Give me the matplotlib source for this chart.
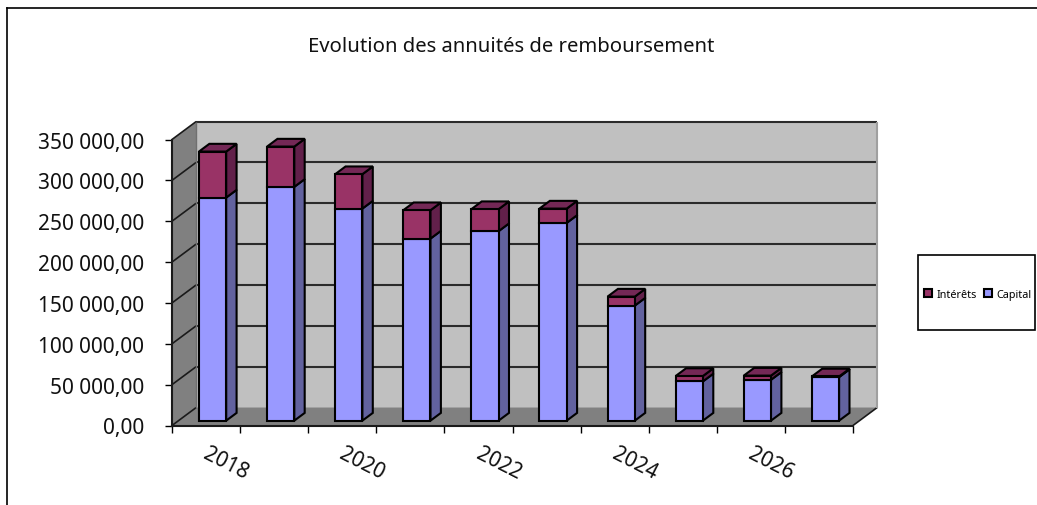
import numpy as np
import matplotlib
matplotlib.use("Agg")
import matplotlib.pyplot as plt
from matplotlib.lines import Line2D
from matplotlib.patches import Patch, Rectangle
from matplotlib.transforms import ScaledTranslation

plt.rcParams['font.family'] = ['Noto Sans', 'DejaVu Sans']

# --- Data ---
years = [2018, 2019, 2020, 2021, 2022, 2023, 2024, 2025, 2026, 2027]
capital = [273000, 286100, 259500, 222800, 231900, 242000, 140800, 48000, 50000, 53300]
interets = [56300, 49300, 42100, 34700, 26900, 17500, 11000, 6600, 5100, 800]
y_ticks = [0, 50000, 100000, 150000, 200000, 250000, 300000, 350000]
y_labels = ["0,00", "50 000,00", "100 000,00", "150 000,00", "200 000,00",
            "250 000,00", "300 000,00", "350 000,00"]
x_labels = ["2018", "2020", "2022", "2024", "2026"]

# --- Fake 3D depth, in data units ---
DEPTH_X = 0.355
DEPTH_Y = 22000
BAR_WIDTH = 0.40
BAR_FRONT = 0.27
BAR_BACK = 0.70

W, H = 1037, 506
fig = plt.figure(figsize=(W / 100, H / 100), dpi=100)
ax = fig.add_axes([172 / W, 1 - 426.5 / H, (853 - 172) / W, (426.5 - 140.5) / H])
n = len(years)
ymax = y_ticks[-1]
ax.set_xlim(0, n)
ax.set_ylim(0, ymax)
ax.patch.set_visible(False)


def poly(xs, ys, depths, color, edge='black', lw=1.5, z=3):
    xs = np.array(xs) + np.array(depths) * DEPTH_X
    ys = np.array(ys) + np.array(depths) * DEPTH_Y
    ax.fill(xs, ys, facecolor=color, edgecolor=edge, linewidth=lw, clip_on=False,
            zorder=z, joinstyle='miter')


def line(xs, ys, depths, color, lw=1.5, z=2):
    xs = np.array(xs) + np.array(depths) * DEPTH_X
    ys = np.array(ys) + np.array(depths) * DEPTH_Y
    ax.plot(xs, ys, color=color, linewidth=lw, clip_on=False, zorder=z,
            solid_capstyle='butt')


# walls and floor
poly([0, n, n, 0], [0, 0, ymax, ymax], [1, 1, 1, 1], '#c0c0c0', edge='none', z=1)
poly([0, 0, 0, 0], [0, ymax, ymax, 0], [0, 0, 1, 1], '#808080', edge='none', z=1)
poly([0, n, n, 0], [0, 0, 0, 0], [0, 0, 1, 1], '#808080', edge='none', z=1)

for v in y_ticks[1:]:
    line([0, n], [v, v], [1, 1], '#2b2b2b', lw=1.5)
    line([0, 0], [v, v], [0, 1], '#1a1a1a', lw=1.2)
line([0, 0], [0, 0], [0, 1], '#1a1a1a', lw=1.2)
line([n, n], [0, 0], [0, 1], '#1a1a1a', lw=1.2)
line([n, n], [0, ymax], [1, 1], '#a0a0a0', lw=1.5)
line([0, 0], [0, ymax], [1, 1], '#707070', lw=1)

# stacked columns
for i, (cap, inte) in enumerate(zip(capital, interets)):
    x0 = i + 0.5 - BAR_WIDTH / 2
    x1 = i + 0.5 + BAR_WIDTH / 2
    top = cap + inte
    # side faces
    poly([x1, x1, x1, x1], [0, cap, cap, 0], [BAR_FRONT, BAR_FRONT, BAR_BACK, BAR_BACK], '#62629f')
    poly([x1, x1, x1, x1], [cap, top, top, cap], [BAR_FRONT, BAR_FRONT, BAR_BACK, BAR_BACK], '#62204a')
    # top face
    poly([x0, x1, x1, x0], [top, top, top, top], [BAR_FRONT, BAR_FRONT, BAR_BACK, BAR_BACK], '#742856')
    # front faces
    poly([x0, x1, x1, x0], [0, 0, cap, cap], [BAR_FRONT] * 4, '#9999ff')
    poly([x0, x1, x1, x0], [cap, cap, top, top], [BAR_FRONT] * 4, '#993366')

# axes
for s in ['top', 'right']:
    ax.spines[s].set_visible(False)
for s in ['left', 'bottom']:
    ax.spines[s].set_linewidth(1.5)
    ax.spines[s].set_color('#1a1a1a')
    ax.spines[s].set_zorder(4)
ax.set_yticks(y_ticks)
ax.set_yticklabels(y_labels)
ax.tick_params(axis='y', length=5, width=1, pad=15, labelsize=15, labelcolor='#111111')
ax.set_xticks(np.arange(n + 1))
ax.set_xticklabels([])
ax.set_xticks(np.arange(0.5, n, 2), minor=True)
ax.set_xticklabels(x_labels, minor=True)
ax.tick_params(axis='x', which='major', length=5, width=1)
ax.tick_params(axis='x', which='minor', length=0, pad=0, labelsize=15, labelcolor='#111111')
shift = ScaledTranslation(-1 / 72, -19 / 72, fig.dpi_scale_trans)
for lab in ax.get_xticklabels(minor=True):
    lab.set_rotation(-27)
    lab.set_rotation_mode('anchor')
    lab.set_ha('left')
    lab.set_va('center')
    lab.set_transform(lab.get_transform() + shift)

fig.text(511 / W, 1 - 46.5 / H, "Evolution des annuités de remboursement",
         ha='center', va='center', fontsize=14.6, color='#111111')

# legend, box drawn apart since it is much wider than its entries
fig.add_artist(Rectangle((918 / W, 1 - 331 / H), 117 / W, 75 / H, transform=fig.transFigure,
                         facecolor='white', edgecolor='black', linewidth=1.2))
handles = [Patch(facecolor='#993366', edgecolor='black', linewidth=1.5, label='Intérêts'),
           Patch(facecolor='#9999ff', edgecolor='black', linewidth=1.5, label='Capital')]
leg = fig.legend(handles=handles, ncol=2, loc='center',
                 bbox_to_anchor=(977.5 / W, 1 - 295.5 / H), fontsize=7.8,
                 frameon=False, handlelength=0.8, handleheight=0.8, handletextpad=0.35,
                 columnspacing=0.65, borderaxespad=0, borderpad=0)

# chart border: left and top only
fig.add_artist(Line2D([6.5 / W, 6.5 / W], [0, 1 - 8.5 / H], color='black', linewidth=1.2))
fig.add_artist(Line2D([6.5 / W, 1], [1 - 8.5 / H, 1 - 8.5 / H], color='black', linewidth=1.2))

fig.savefig("out.png", dpi=100)
